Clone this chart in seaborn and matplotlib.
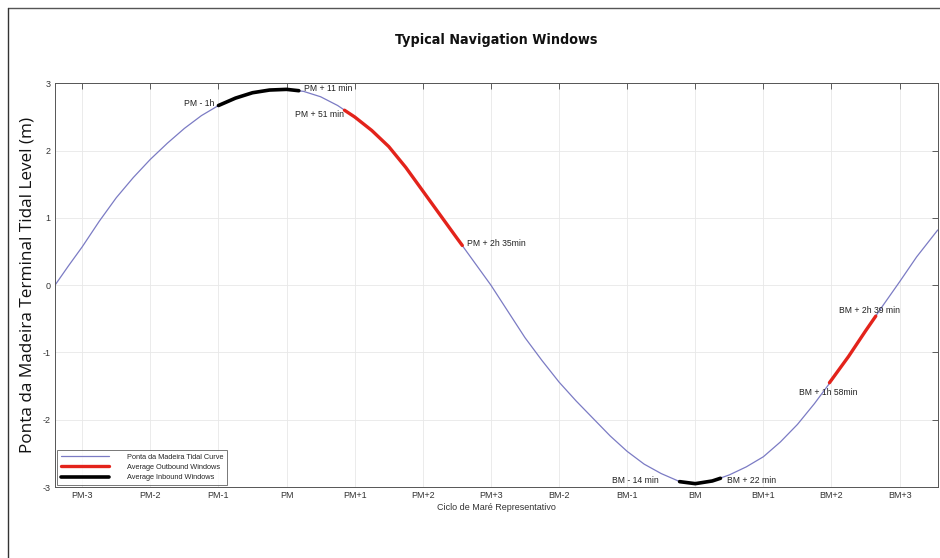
import numpy as np
import pandas as pd
import matplotlib.pyplot as plt
import seaborn as sns

# tidal curve (hours from high water PM, level in m)
hours = [-3.4, -3.2, -3.0, -2.75, -2.5, -2.25, -2.0, -1.75, -1.5, -1.25, -1.0, -0.75,
         -0.5, -0.25, 0.0, 0.25, 0.5, 0.75, 1.0, 1.25, 1.5, 1.75, 2.0, 2.25, 2.5, 2.75,
         3.0, 3.25, 3.5, 3.75, 4.0, 4.25, 4.5, 4.75, 5.0, 5.25, 5.5, 5.75, 6.0, 6.25,
         6.5, 6.75, 7.0, 7.25, 7.5, 7.75, 8.0, 8.25, 8.5, 8.75, 9.0, 9.25, 9.56]
level = [0.0, 0.29, 0.57, 0.95, 1.3, 1.6, 1.87, 2.11, 2.33, 2.52, 2.67, 2.78,
         2.86, 2.9, 2.91, 2.88, 2.8, 2.67, 2.5, 2.3, 2.06, 1.75, 1.4, 1.05, 0.7, 0.35,
         0.0, -0.39, -0.78, -1.12, -1.44, -1.72, -1.98, -2.24, -2.47, -2.66, -2.8, -2.91,
         -2.95, -2.91, -2.82, -2.7, -2.55, -2.33, -2.07, -1.76, -1.42, -1.06, -0.68,
         -0.31, 0.05, 0.42, 0.82]

# navigation windows
in1_h = [-1.0, -0.75, -0.5, -0.25, 0.0, 0.18]
in1_l = [2.67, 2.78, 2.86, 2.9, 2.91, 2.89]
out1_h = [0.85, 1.0, 1.25, 1.5, 1.75, 2.0, 2.25, 2.5, 2.58]
out1_l = [2.6, 2.5, 2.3, 2.06, 1.75, 1.4, 1.05, 0.7, 0.59]
in2_h = [5.77, 6.0, 6.25, 6.37]
in2_l = [-2.92, -2.95, -2.91, -2.87]
out2_h = [7.97, 8.25, 8.5, 8.65]
out2_l = [-1.45, -1.06, -0.68, -0.46]

tick_labels = ['PM-3', 'PM-2', 'PM-1', 'PM', 'PM+1', 'PM+2', 'PM+3',
               'BM-2', 'BM-1', 'BM', 'BM+1', 'BM+2', 'BM+3']
tick_pos = list(range(-3, 10))

notes = [('PM - 1h', -1.06, 2.70, 'right'),
         ('PM + 11 min', 0.26, 2.93, 'left'),
         ('PM + 51 min', 0.85, 2.53, 'right'),
         ('PM + 2h 35min', 2.65, 0.62, 'left'),
         ('BM - 14 min', 5.47, -2.91, 'right'),
         ('BM + 22 min', 6.47, -2.91, 'left'),
         ('BM + 2h 39 min', 8.11, -0.37, 'left'),
         ('BM + 1h 58min', 7.52, -1.60, 'left')]

sns.set_style('white')
plt.rcParams['font.family'] = ['Liberation Sans', 'DejaVu Sans']
plt.rcParams['axes.unicode_minus'] = False

fig = plt.figure(figsize=(9.4, 5.58), dpi=100)
ax = fig.add_axes([0.0585, 0.1272, 0.9391, 0.7235])

curve = pd.DataFrame({'t': hours, 'h': level})
sns.lineplot(data=curve, x='t', y='h', ax=ax, color='#7b7bc4', lw=0.9,
             sort=False, estimator=None, label='Ponta da Madeira Tidal Curve')

for i, (th, lv) in enumerate([(out1_h, out1_l), (out2_h, out2_l)]):
    sns.lineplot(x=th, y=lv, ax=ax, color='#e3231b', lw=2.4, sort=False, estimator=None,
                 label='Average Outbound Windows' if i == 0 else None)
for i, (th, lv) in enumerate([(in1_h, in1_l), (in2_h, in2_l)]):
    sns.lineplot(x=th, y=lv, ax=ax, color='black', lw=2.6, sort=False, estimator=None,
                 label='Average Inbound Windows' if i == 0 else None)

for txt, x, y, ha in notes:
    ax.text(x, y, txt, fontsize=6.2, ha=ha, va='center', color='#222222')

ax.set_xlim(-3.4, 9.56)
ax.set_ylim(-3, 3)
ax.set_xticks(tick_pos)
ax.set_xticklabels(tick_labels)
ax.set_yticks(range(-3, 4))
ax.tick_params(direction='in', length=4, width=0.6, labelsize=6.5, top=True, right=True,
               colors='#444444', labelcolor='#333333', pad=3)
ax.grid(True, color='#e8e8e8', lw=0.6)
for s in ax.spines.values():
    s.set_color('#555555')
    s.set_linewidth(0.7)

ax.set_xlabel('Ciclo de Maré Representativo', fontsize=6.5, color='#333333', labelpad=2)
ax.set_ylabel('Ponta da Madeira Terminal Tidal Level (m)', fontsize=12.3,
              family=['Open Sans', 'DejaVu Sans'], color='#111111', labelpad=5)
fig.text(0.528, 0.928, 'Typical Navigation Windows', ha='center', va='center',
         fontsize=10.3, fontweight='bold', fontstretch='condensed',
         family=['DejaVu Sans'], color='#111111')

leg = ax.legend(loc='lower left', fontsize=5.3, frameon=True, fancybox=False,
                borderaxespad=0.3, handlelength=6.6, handletextpad=2.4,
                labelspacing=0.4, borderpad=0.5)
leg.get_frame().set_edgecolor('#555555')
leg.get_frame().set_linewidth(0.7)

# frame around the picture
fig.add_artist(plt.Line2D([8 / 940, 1], [1 - 8 / 558, 1 - 8 / 558], color='#555555', lw=1))
fig.add_artist(plt.Line2D([8 / 940, 8 / 940], [0, 1 - 8 / 558], color='#333333', lw=1))

fig.savefig('out.png', dpi=100)
